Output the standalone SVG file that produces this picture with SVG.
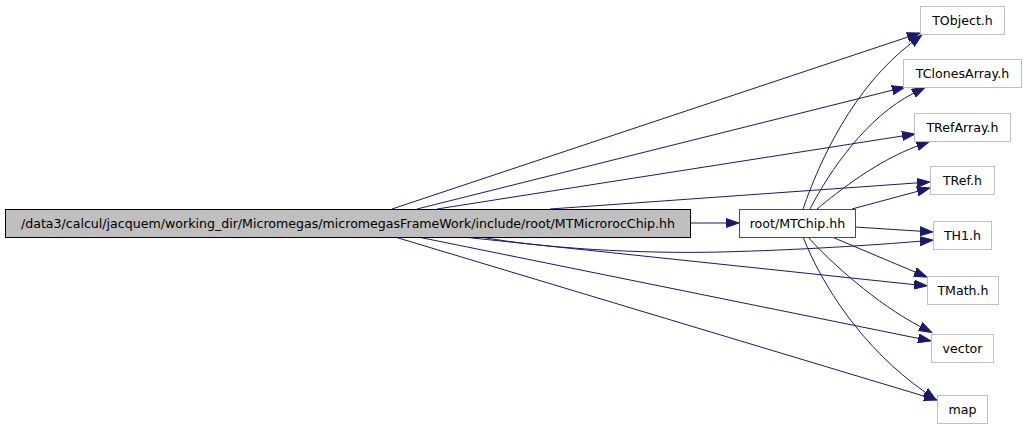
<svg xmlns="http://www.w3.org/2000/svg" width="1027" height="429" viewBox="0 0 1027 429">
<style>
.n rect{fill:#ffffff;stroke:#bfbfbf;stroke-width:1}
.n text{font-family:"DejaVu Sans",sans-serif;font-size:12.6px;text-anchor:middle;fill:#000}
#main rect{fill:#bfbfbf;stroke:#000}
#mtchip rect{stroke:#ff0000}
#edges path{fill:none;stroke:#191970;stroke-width:1;marker-end:url(#arr)}
</style>
<defs>
<marker id="arr" markerUnits="userSpaceOnUse" markerWidth="14" markerHeight="10" viewBox="0 -5 14 10" refX="0" refY="0" orient="auto">
<path d="M0,-4.5L13,0L0,4.5z" fill="#191970" stroke="#191970" stroke-width="1"/>
</marker>
</defs>
<rect width="1027" height="429" fill="#ffffff"/>
<g id="edges">
<path d="M392,209 L907.7,37.1"/>
<path d="M417,209 L892.4,90.2"/>
<path d="M437,209 L902.2,136"/>
<path d="M550,209 L917,182.9"/>
<path d="M690,223 L726,223"/>
<path d="M481,237 C540,248 640,254 720,252 C800,250 875,245 920,241.2"/>
<path d="M463,237 L914.1,284.6"/>
<path d="M418,237 L918.3,338.4"/>
<path d="M395,237 L924.6,396.3"/>
<path d="M803,209 C820,160 853,88 911.6,42.8"/>
<path d="M810,209 C830,170 867,117 913.4,93.3"/>
<path d="M817,209 C840,190 877,161 917.2,146.1"/>
<path d="M852,209 L917.4,191.4"/>
<path d="M855,227 L920,231.2"/>
<path d="M832,237 L915,272"/>
<path d="M808,237 C830,262 877,304 920.3,326.6"/>
<path d="M803,237 C822,285 862,348 925.3,392.3"/>
</g>
<g id="main" class="n"><rect x="5.5" y="209.5" width="685" height="28"/><text x="348" y="227.8">/data3/calcul/jacquem/working_dir/Micromegas/micromegasFrameWork/include/root/MTMicrorocChip.hh</text></g>
<g id="mtchip" class="n"><rect x="739.5" y="209.5" width="116" height="28"/><text x="797.5" y="227.8">root/MTChip.hh</text></g>
<g id="tobject" class="n"><rect x="920.5" y="6.5" width="84" height="28"/><text x="962.5" y="24.8">TObject.h</text></g>
<g id="tclonesarray" class="n"><rect x="903.5" y="59.5" width="118" height="28"/><text x="962.5" y="77.8">TClonesArray.h</text></g>
<g id="trefarray" class="n"><rect x="914.5" y="113.5" width="96" height="28"/><text x="962.5" y="131.8">TRefArray.h</text></g>
<g id="tref" class="n"><rect x="930.5" y="166.5" width="64" height="28"/><text x="962.5" y="184.8">TRef.h</text></g>
<g id="th1" class="n"><rect x="933.5" y="221.5" width="58" height="28"/><text x="962.5" y="239.8">TH1.h</text></g>
<g id="tmath" class="n"><rect x="927.5" y="276.5" width="71" height="28"/><text x="963" y="294.8">TMath.h</text></g>
<g id="vector" class="n"><rect x="931.5" y="334.5" width="62" height="28"/><text x="962.5" y="352.8">vector</text></g>
<g id="map" class="n"><rect x="937.5" y="395.5" width="50" height="28"/><text x="962.5" y="413.8">map</text></g>
</svg>
